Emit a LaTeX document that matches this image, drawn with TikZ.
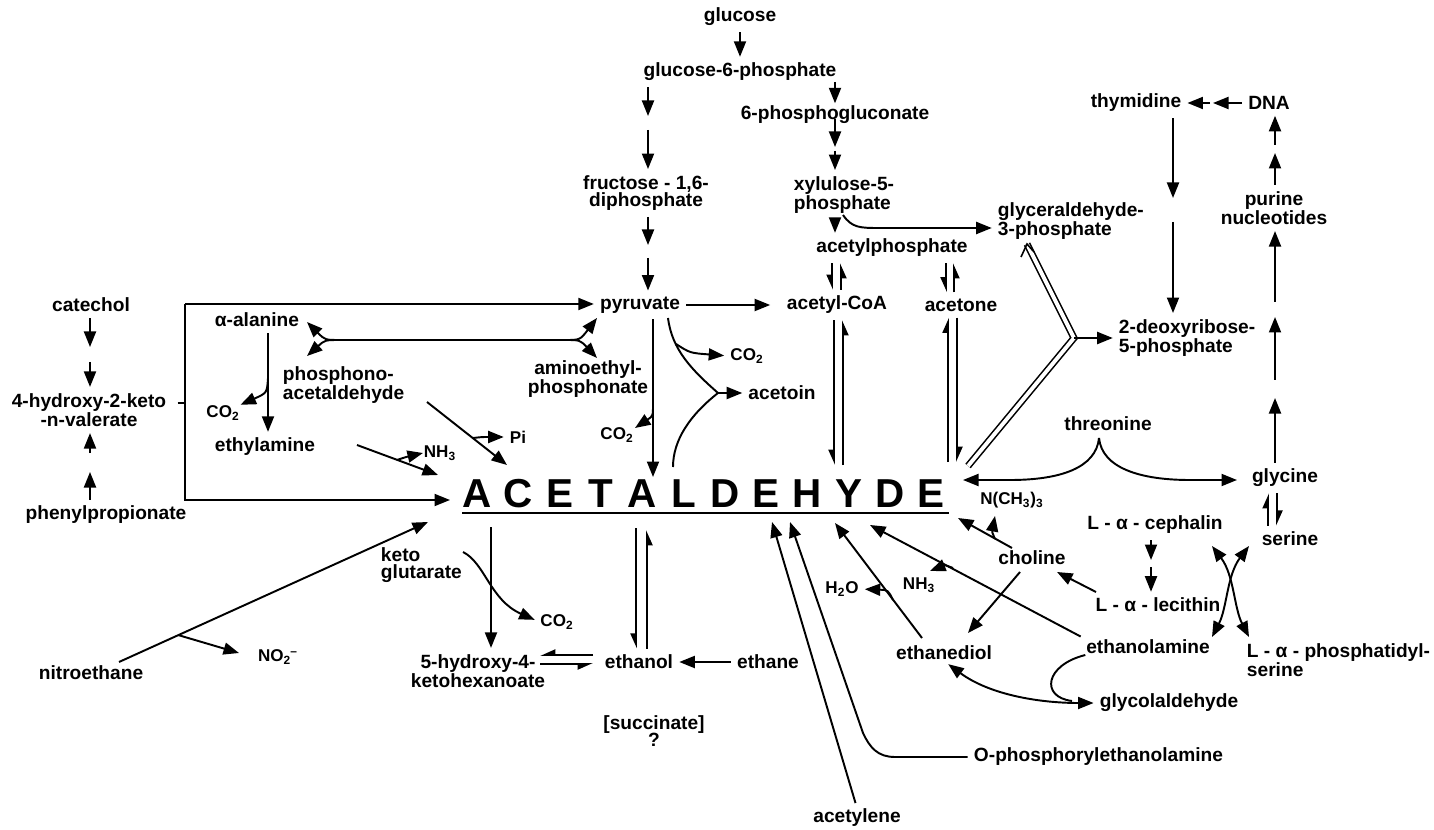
\documentclass[tikz,border=0pt]{standalone}
\usepackage{fontspec}
\setmainfont{Liberation Sans}
\usetikzlibrary{arrows.meta}
\def\cotwo{CO\textsubscript{2}}
\def\nhthree{NH\textsubscript{3}}

\begin{document}
\begin{tikzpicture}[x=0.2mm,y=-0.2mm,line width=1.1pt,
			lbl/.style={inner sep=0pt,align=center,font=\fontsize{10.9}{10}\selectfont\bfseries},
			sm/.style={inner sep=0pt,font=\fontsize{9.7}{10}\selectfont\bfseries},
			big/.style={inner sep=0pt,font=\fontsize{23}{23}\selectfont\bfseries},
			ar/.style={-{Triangle[length=3.1mm,width=2.4mm]}},
			dar/.style={{Triangle[length=3.1mm,width=2.4mm]}-{Triangle[length=3.1mm,width=2.4mm]}},
			hp/.style={-{Triangle[harpoon,length=2.6mm,width=2.2mm]}},
			hps/.style={-{Triangle[harpoon,swap,length=2.6mm,width=2.2mm]}},
			dbl/.style={double,double distance=2.2pt,line width=0.9pt},
			sa/.style={shorten <=3pt},
			sb/.style={shorten >=3pt},
			sh/.style={shorten <=3pt,shorten >=3pt}]
			\useasboundingbox (0,0) rectangle (1434,830);

			\foreach \c [count=\i] in {A,C,E,T,A,L,D,E,H,Y,D,E}
				\node[big] (w\i) at (435.7+41.3*\i,494) {\c};
			\coordinate (ln1) at (462,513);
			\coordinate (ln2) at (949,513);
			\draw[line width=1.4pt] (ln1) -- (ln2);

			\node[lbl] (glc) at (740,17) {glucose};
			\node[lbl] (g6p) at (740,72) {glucose-6-phosphate};
			\node[lbl] (pgl) at (835,115) {6-phosphogluconate};
			\node[lbl] (fdp) at (646,193) {fructose - 1,6-\\diphosphate};
			\node[lbl,anchor=west,align=left] (xyl) at (793,195) {xylulose-5-\\phosphate};
			\node[lbl] (acp) at (892,248) {acetylphosphate};
			\node[lbl,anchor=west,align=left] (gap) at (997,221) {glyceraldehyde-\\3-phosphate};
			\node[lbl] (pyr) at (640,305) {pyruvate};
			\node[lbl] (acoa) at (837,305) {acetyl-CoA};
			\node[lbl] (acn) at (961,305) {acetone};
			\node[lbl] (thy) at (1136,103) {thymidine};
			\node[lbl] (dna) at (1269,103) {DNA};
			\node[lbl] (pur) at (1274,208) {purine\\nucleotides};
			\node[lbl,anchor=west,align=left] (drp) at (1118,338) {2-deoxyribose-\\5-phosphate};
			\node[lbl] (cat) at (91,305) {catechol};
			\node[lbl] (hkv) at (89,410) {4-hydroxy-2-keto\\-n-valerate};
			\node[lbl] (php) at (106,515) {phenylpropionate};
			\node[lbl] (ala) at (257,320) {α-alanine};
			\node[lbl,anchor=west,align=left] (ppa) at (282,385) {phosphono-\\acetaldehyde};
			\node[lbl] (aep) at (588,379) {aminoethyl-\\phosphonate};
			\node[sm] (co2a) at (223,413) {\cotwo};
			\node[lbl] (eta) at (265,447) {ethylamine};
			\node[sm] (nh3a) at (440,453) {\nhthree};
			\node[sm] (pi) at (518,437) {Pi};
			\node[sm] (co2b) at (617,435) {\cotwo};
			\node[sm] (co2c) at (747,356) {\cotwo};
			\node[lbl] (atn) at (782,393) {acetoin};
			\node[lbl] (thr) at (1108,424) {threonine};
			\node[lbl] (gly) at (1285,478) {glycine};
			\node[lbl] (ser) at (1290,539) {serine};
			\node[sm] (nme) at (1012,500) {N(CH\textsubscript{3})\textsubscript{3}};
			\node[lbl] (cep) at (1155,525) {L - α - cephalin};
			\node[lbl] (lec) at (1158,605) {L - α - lecithin};
			\node[lbl] (chl) at (1032,558) {choline};
			\node[lbl] (etm) at (1148,647) {ethanolamine};
			\node[lbl,anchor=west,align=left] (pts) at (1246,660) {L - α - phosphatidyl-\\serine};
			\node[lbl] (edl) at (944,653) {ethanediol};
			\node[lbl] (gla) at (1169,703) {glycolaldehyde};
			\node[sm] (nh3b) at (919,585) {\nhthree};
			\node[sm] (h2o) at (842,589) {H\textsubscript{2}O};
			\node[lbl,anchor=west] (opa) at (973,757) {O-phosphorylethanolamine};
			\node[lbl] (acy) at (857,818) {acetylene};
			\node[lbl] (eol) at (639,662) {ethanol};
			\node[lbl] (etn) at (768,662) {ethane};
			\node[lbl] (suc) at (654,731) {[succinate]\\?};
			\node[lbl] (hxk) at (478,671) {5-hydroxy-4-\\ketohexanoate};
			\node[lbl,anchor=west,align=left] (kgl) at (380,565) {keto\\glutarate};
			\node[sm] (co2d) at (557,622) {\cotwo};
			\node[sm] (no2) at (278,657) {NO\textsubscript{2}\kern-0.05em\textsuperscript{--}};
			\node[lbl] (nit) at (91,673) {nitroethane};

			\draw[ar,sh] (glc) -- (g6p);
			\coordinate (f1) at (648,116);
			\coordinate (f2) at (648,130);
			\coordinate (f3) at (648,245);
			\coordinate (f4) at (648,258);
			\draw[ar,sa] (g6p.south -| f1) -- (f1);
			\draw[ar,sb] (f2) -- (f2 |- fdp.north);
			\draw[ar,sa] (fdp.south -| f3) -- (f3);
			\draw[ar,sb] (f4) -- (f4 |- pyr.north);

			\coordinate (p1) at (835,119);
			\coordinate (p2) at (835,147);
			\coordinate (p3) at (835,151);
			\draw[ar,shorten >=1pt] (g6p.south -| pgl) -- (pgl.north);
			\draw[ar] (p1) -- (p2);
			\draw[ar,sb] (p3) -- (p3 |- xyl.north);
			\draw[ar,sh] (xyl.south -| p3) -- (p3 |- acp.north);
			\coordinate (x1) at (843,215);
			\coordinate (x2) at (880,228);
			\draw[ar,sb] (x1) .. controls (852,228) and (860,228) .. (x2) -- (x2 -| gap.west);

			\coordinate (q1) at (832,0);
			\coordinate (q2) at (841,0);
			\coordinate (q3) at (946,0);
			\coordinate (q4) at (954,0);
			\draw[hps,sh] (acp.south -| q1) -- (q1 |- acoa.north);
			\draw[hps,sh] (q2 |- acoa.north) -- (acp.south -| q2);
			\draw[hps,sh] (acp.south -| q3) -- (q3 |- acn.north);
			\draw[hps,sh] (q4 |- acn.north) -- (acp.south -| q4);

			\coordinate (a1) at (834,465);
			\coordinate (a2) at (843,465);
			\coordinate (a3) at (948,462);
			\coordinate (a4) at (957,462);
			\draw[hps,sa] (acoa.south -| a1) -- (a1);
			\draw[hps,sb] (a2) -- (a2 |- acoa.south);
			\draw[hp,sb] (a3) -- (a3 |- acn.south);
			\draw[hp,sa] (acn.south -| a4) -- (a4);

			\draw[ar,shorten <=3pt,shorten >=9pt] (pyr) -- (acoa);
			\coordinate (y2) at (653,477);
			\coordinate (y3) at (653,404);
			\coordinate (y4) at (635,428);
			\draw[ar,sa] (pyr.south -| y2) -- (y2);
			\draw[ar] (y3) .. controls (653,416) .. (y4);
			\coordinate (y5) at (668,318);
			\coordinate (y6) at (718,393);
			\coordinate (y7) at (673,467);
			\coordinate (y8) at (676,344);
			\draw (y5) .. controls (672,350) and (692,370) .. (y6);
			\draw (y6) .. controls (690,415) and (673,440) .. (y7);
			\draw[ar,sb] (y8) .. controls (690,353) .. (co2c.west);
			\draw[ar,sb] (y6) -- (atn);

			\coordinate (b1) at (185,304);
			\coordinate (b2) at (185,500);
			\coordinate (b3) at (450,500);
			\coordinate (b4) at (185,403);
			\draw[shorten <=6pt] (hkv.east |- b4) -- (b4);
			\draw[ar] (b1) -- (b2) -- (b3);
			\draw[ar,sb] (b1) -- (pyr.west |- b1);

			\coordinate (k1) at (90,347);
			\coordinate (k2) at (90,362);
			\coordinate (k3) at (90,472);
			\coordinate (k4) at (90,453);
			\draw[ar,sa] (cat.south -| k1) -- (k1);
			\draw[ar,sb] (k2) -- (k2 |- hkv.north);
			\draw[ar,sa] (php.north -| k3) -- (k3);
			\draw[ar,sb] (k4) -- (k4 |- hkv.south);

			\coordinate (r1) at (340,340);
			\coordinate (r2) at (565,340);
			\coordinate (r3) at (307,322);
			\coordinate (r4) at (307,356);
			\coordinate (r5) at (597,318);
			\coordinate (r6) at (597,358);
			\draw (r1) -- (r2);
			\draw[ar] (r1) .. controls (325,340) .. (r3);
			\draw[ar] (r1) .. controls (325,340) .. (r4);
			\draw[ar] (r2) .. controls (580,340) .. (r5);
			\draw[ar] (r2) .. controls (580,340) .. (r6);

			\coordinate (e1) at (268,378);
			\draw[ar,sh] (ala.south -| e1) -- (e1 |- eta.north);
			\draw[ar] (e1) .. controls (267,393) .. (co2a.north east);
			\coordinate (e2) at (357,445);
			\coordinate (e3) at (438,475);
			\coordinate (e4) at (397,460);
			\draw[ar] (e2) -- (e3);
			\draw[ar] (e4) .. controls (406,457) .. (nh3a.west);
			\coordinate (e5) at (427,402);
			\coordinate (e6) at (507,465);
			\coordinate (e7) at (473,438);
			\draw[ar] (e5) -- (e6);
			\draw[ar,sb] (e7) .. controls (482,437) .. (pi.west);

			\coordinate (n1) at (119,662);
			\coordinate (n2) at (428,522);
			\coordinate (n3) at (178,635);
			\coordinate (n4) at (239,653);
			\draw[ar] (n1) -- (n2);
			\draw[ar] (n3) -- (n4);

			\coordinate (h1) at (491,527);
			\coordinate (h2) at (463,552);
			\draw[ar,sb] (h1) -- (h1 |- hxk.north);
			\draw[ar,sb] (h2) .. controls (485,563) and (490,600) .. (co2d.west);
			\coordinate (h3) at (593,655);
			\coordinate (h4) at (540,655);
			\coordinate (h5) at (540,664);
			\coordinate (h6) at (593,664);
			\draw[hps] (h3) -- (h4);
			\draw[hps] (h5) -- (h6);

			\coordinate (o1) at (636,528);
			\coordinate (o2) at (647,530);
			\draw[hps,sb] (o1) -- (o1 |- eol.north);
			\draw[hps,sa] (eol.north -| o2) -- (o2);
			\draw[ar,sh] (etn) -- (eol);

			\coordinate (t1) at (772,522);
			\coordinate (t2) at (790,522);
			\coordinate (t3) at (895,757);
			\coordinate (t4) at (863,733);
			\draw[ar,sa] (acy.north) -- (t1);
			\draw[ar,sa] (opa.west) -- (t3) .. controls (878,757) and (870,748) .. (t4) -- (t2);
			\coordinate (t5) at (835,523);
			\coordinate (t6) at (893,600);
			\coordinate (t7) at (922,638);
			\draw[ar] (t7) -- (t5);
			\draw[ar,sb] (t6) .. controls (888,590) .. (h2o.east);
			\coordinate (t8) at (870,525);
			\coordinate (t9) at (953,568);
			\coordinate (t10) at (930,571);
			\draw[ar,sa] (etm.north west) -- (t8);
			\draw[ar] (t9) .. controls (945,565) .. (t10);

			\coordinate (u0) at (1012,548);
			\coordinate (u1) at (958,518);
			\coordinate (u2) at (995,539);
			\coordinate (u3) at (995,516);
			\coordinate (u4) at (1020,572);
			\coordinate (u5) at (968,633);
			\draw[ar] (u0) -- (u1);
			\draw[ar] (u2) .. controls (992,532) .. (u3);
			\draw[ar] (u4) -- (u5);
			\coordinate (v1) at (1096,592);
			\coordinate (v2) at (1057,572);
			\draw[ar] (v1) -- (v2);
			\coordinate (v3) at (1151,560);
			\coordinate (v4) at (1151,567);
			\draw[ar,sa] (cep.south -| v3) -- (v3);
			\draw[ar,sb] (v4) -- (v4 |- lec.north);

			\coordinate (z1) at (1212,546);
			\coordinate (z2) at (1249,546);
			\coordinate (z3) at (1212,637);
			\coordinate (z4) at (1249,637);
			\draw[dar] (z1) .. controls (1234,575) and (1234,608) .. (z4);
			\draw[dar] (z2) .. controls (1227,575) and (1227,608) .. (z3);

			\coordinate (s1) at (1099,438);
			\coordinate (s2) at (963,480);
			\coordinate (s3) at (1010,480);
			\coordinate (s4) at (1190,480);
			\coordinate (s5) at (1237,480);
			\draw[ar] (s1) .. controls (1096,468) and (1060,480) .. (s3) -- (s2);
			\draw[ar] (s1) .. controls (1102,468) and (1140,480) .. (s4) -- (s5);

			\coordinate (g1) at (1268,0);
			\coordinate (g2) at (1277,0);
			\draw[hp,sh] (ser.north -| g1) -- (g1 |- gly.south);
			\draw[hp,sh] (gly.south -| g2) -- (g2 |- ser.north);
			\coordinate (m1) at (1275,398);
			\coordinate (m2) at (1275,380);
			\coordinate (m3) at (1275,317);
			\coordinate (m4) at (1275,302);
			\coordinate (m5) at (1275,153);
			\coordinate (m6) at (1275,145);
			\draw[ar,sa] (gly.north -| m1) -- (m1);
			\draw[ar] (m2) -- (m3);
			\draw[ar,sb] (m4) -- (m4 |- pur.south);
			\draw[ar,sa] (pur.north -| m5) -- (m5);
			\draw[ar,sb] (m6) -- (m6 |- dna.south);

			\coordinate (d1) at (1213,103);
			\coordinate (d2) at (1210,103);
			\coordinate (d3) at (1173,198);
			\coordinate (d4) at (1173,222);
			\draw[ar,sa] (dna.west) -- (d1);
			\draw[ar,sb] (d2) -- (thy.east);
			\draw[ar,sa] (thy.south -| d3) -- (d3);
			\draw[ar,sb] (d4) -- (d4 |- drp.north);

			\coordinate (j1) at (1027,244);
			\coordinate (j2) at (968,466);
			\coordinate (j3) at (1074,338);
			\draw[dbl] (j1) -- (j3) -- (j2);
			\draw[line width=0.9pt] (1021,257) -- (j1) -- (1034,252);
			\draw[ar,sb] (j3) -- (drp.west |- j3);

			\coordinate (i2) at (1072,701);
			\draw[dar,sh] (edl.south) .. controls (990,695) and (1040,703) .. (gla.west);
			\draw (etm.south west) .. controls (1045,665) and (1040,697) .. (i2);
		\end{tikzpicture}
\end{document}
